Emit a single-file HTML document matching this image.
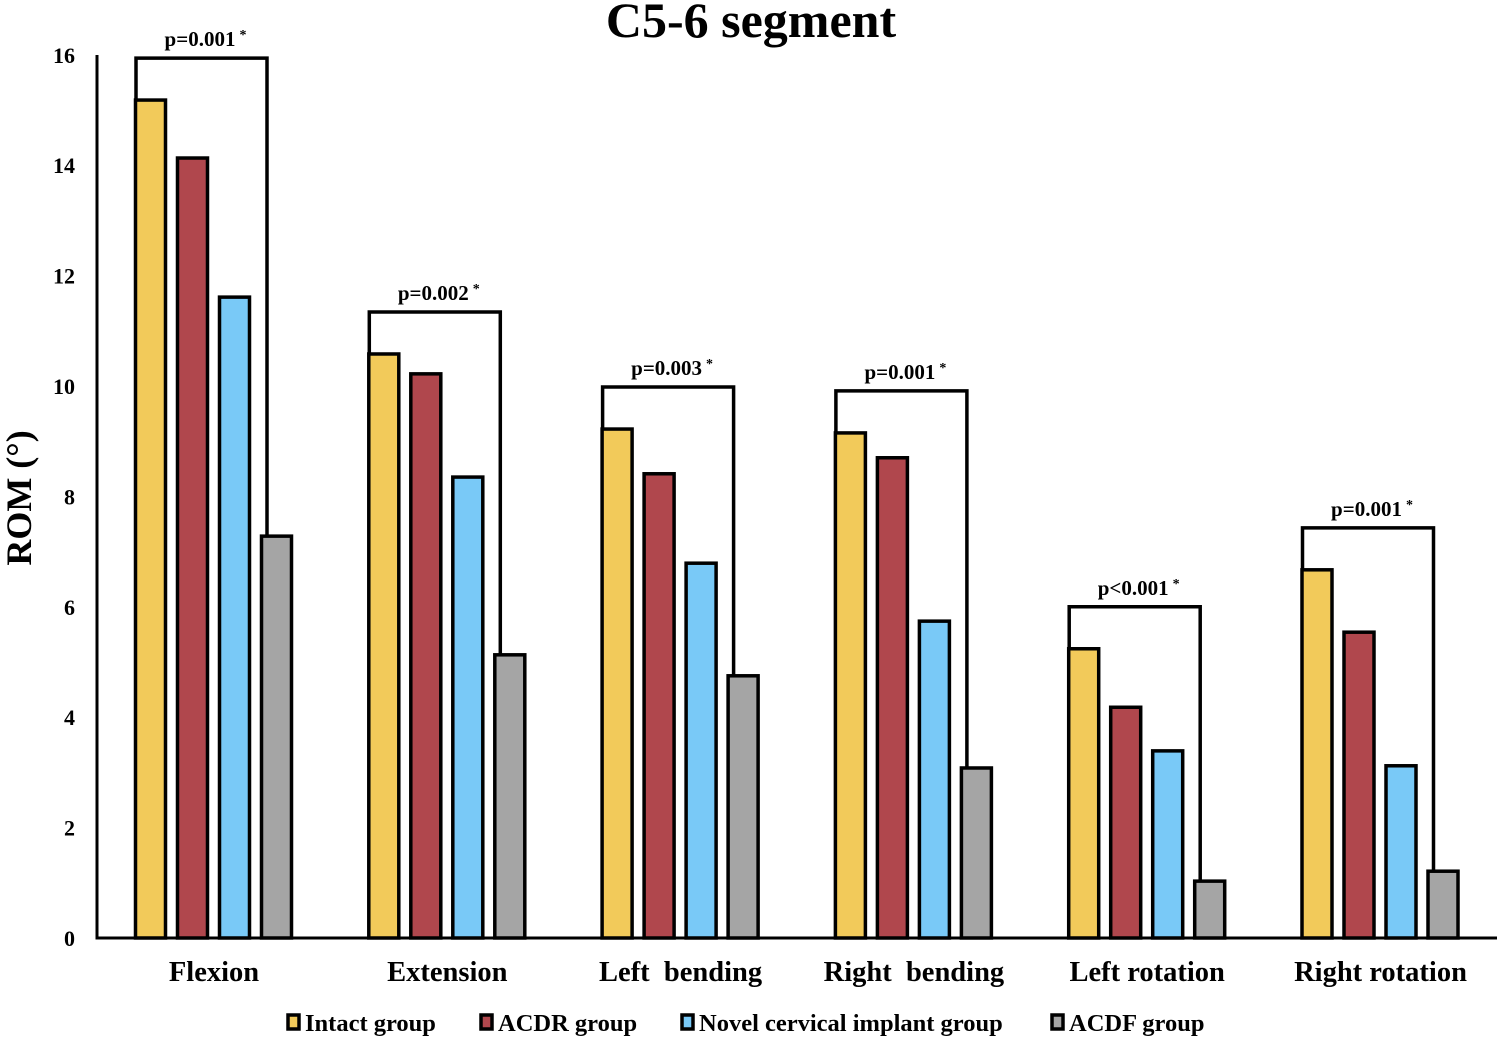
<!DOCTYPE html>
<html><head><meta charset="utf-8"><style>
html,body{margin:0;padding:0;background:#fff}
svg{display:block;font-family:"Liberation Serif",serif;font-weight:bold}
</style></head><body>
<svg id="chart" width="1500" height="1038" viewBox="0 0 1500 1038">
<text x="751" y="37" font-size="50" text-anchor="middle">C5-6 segment</text>
<text transform="translate(31,498) rotate(-90)" font-size="36" text-anchor="middle">ROM (°)</text>
<g id="bars"></g>
<g id="brackets"></g>
<g id="axes"></g>
<g id="legend"></g>
</svg>
<script>
const categories = ["Flexion","Extension","Left  bending","Right  bending","Left rotation","Right rotation"];
const seriesNames = ["Intact group","ACDR group","Novel cervical implant group","ACDF group"];
const intact = [15.18,10.58,9.22,9.15,5.24,6.67];
const acdr = [14.13,10.22,8.41,8.70,4.18,5.54];
const novel = [11.61,8.35,6.79,5.74,3.39,3.12];
const acdf = [7.28,5.13,4.75,3.08,1.03,1.21];
const pLabels = ["p=0.001","p=0.002","p=0.003","p=0.001","p<0.001","p=0.001"];
const yTicks = [0,2,4,6,8,10,12,14,16];

const colors = ["#f2ca5a","#b0474d","#79c9f7","#a5a5a5"];
const series = [intact, acdr, novel, acdf];
const NS = "http://www.w3.org/2000/svg";
const y0 = 938, pxPer = 55.2, xAxis = 97;
const y = v => y0 - v * pxPer;
const gx = i => 134 + i * 233.3;
function mk(tag, attrs, parent, text){
  const e = document.createElementNS(NS, tag);
  for (const k in attrs) e.setAttribute(k, attrs[k]);
  if (text !== undefined) e.textContent = text;
  parent.appendChild(e); return e;
}
const axes = document.getElementById('axes');
const bars = document.getElementById('bars');
const br = document.getElementById('brackets');
const lg = document.getElementById('legend');

yTicks.forEach(t => {
  const el = mk('text', {x: 75, y: y(t) + 8, 'font-size': 22, 'text-anchor': 'end'}, axes, t);
  
  
});
const ya = mk('line', {x1: xAxis, y1: 55, x2: xAxis, y2: y0 + 1.5, stroke: '#000', 'stroke-width': 3}, axes);


const xa = mk('line', {x1: xAxis, y1: y0, x2: 1497, y2: y0, stroke: '#000', 'stroke-width': 3}, axes);



categories.forEach((c, i) => {
  const x = gx(i);
  series.forEach((s, j) => {
    const bx = x + j * 42;
    const r = mk('rect', {x: bx + 1.5, y: y(s[i]), width: 30, height: y0 - y(s[i]), fill: colors[j], stroke: '#000', 'stroke-width': 3.5}, bars);
    
    
  });
  const cl = mk('text', {x: x + 80, y: 981, 'font-size': 28.5, 'text-anchor': 'middle', 'xml:space': 'preserve'}, axes, c);
  cl.style.whiteSpace = 'pre';
  
  
  const top = y(intact[i]) - 42;
  const lx = x + 2, rx = x + 3 * 42 + 7;
  const p = mk('polyline', {points: `${lx},${y(intact[i])} ${lx},${top} ${rx},${top} ${rx},${y(acdf[i])}`, fill: 'none', stroke: '#000', 'stroke-width': 3.5}, br);
  
  
  const t = mk('text', {x: (lx + rx) / 2 + 4, y: top - 12, 'font-size': 21, 'text-anchor': 'middle'}, br);
  
  
  t.textContent = pLabels[i];
  mk('tspan', {'font-size': 14, dy: -7, dx: 4}, t, '*');
});

const legX = [286, 479, 680, 1050];
seriesNames.forEach((n, j) => {
  const g = mk('g', {}, lg);
  
  
  mk('rect', {x: legX[j] + 2, y: 1015, width: 11, height: 14, fill: colors[j], stroke: '#000', 'stroke-width': 3.5}, g);
  mk('text', {x: legX[j] + 19, y: 1031, 'font-size': 24.5}, g, n);
});
</script>
</body></html>
